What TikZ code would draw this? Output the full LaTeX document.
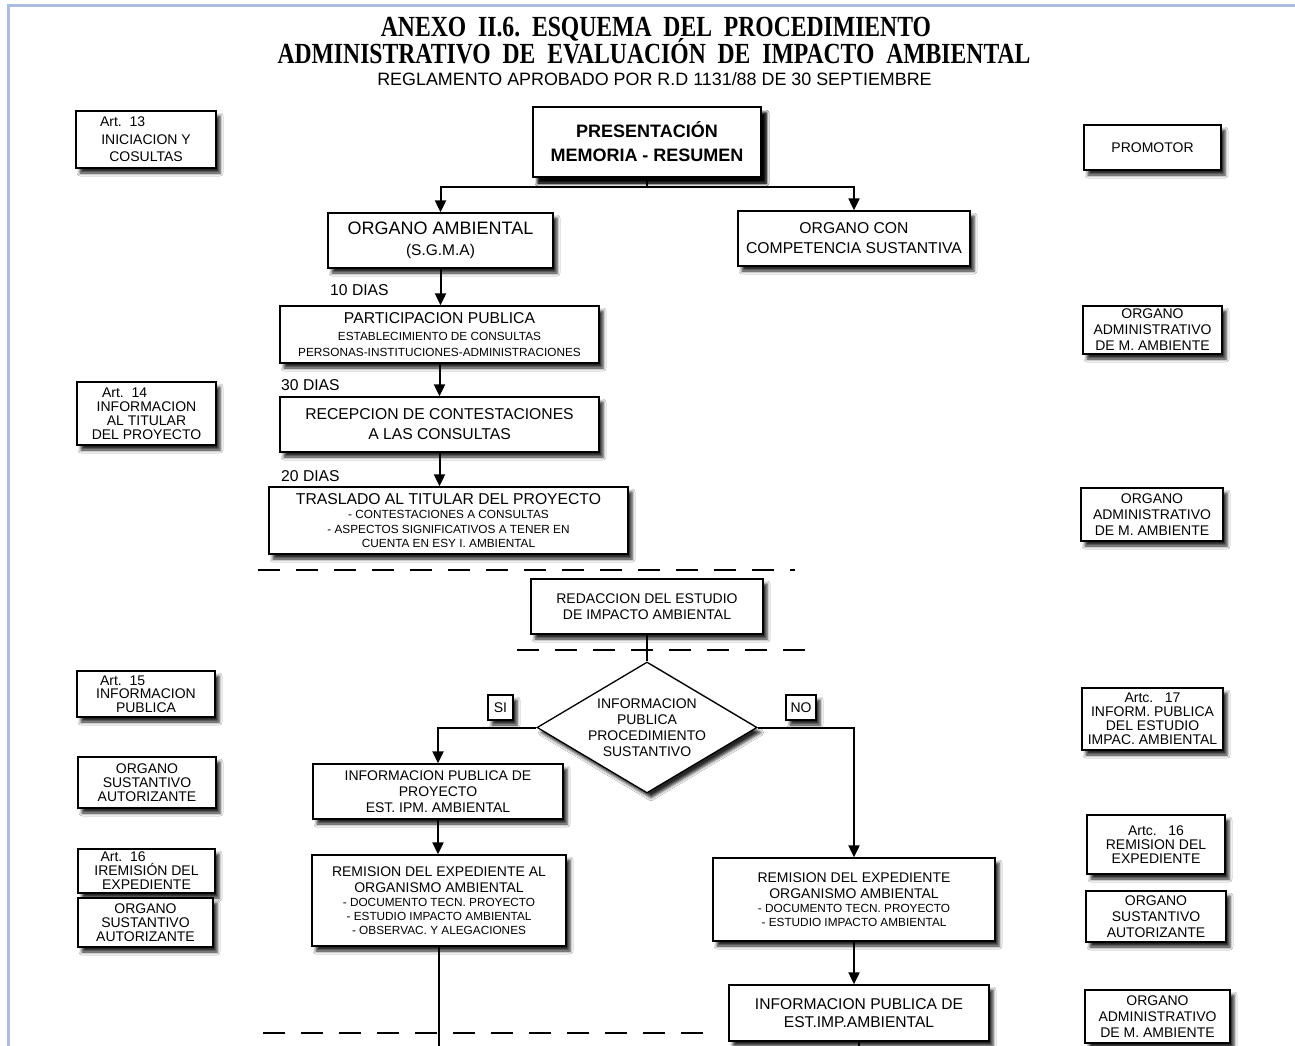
\documentclass[tikz,border=0pt]{standalone}
\usepackage{fontspec}
\setmainfont{Liberation Sans}
\newfontfamily\titlefont[FakeStretch=0.81]{Liberation Serif}
\usetikzlibrary{positioning,shapes.geometric,arrows.meta,shadows.blur}
\definecolor{framebl}{HTML}{A9BCE2}

% font sizes used in the boxes
\newcommand\hdfont{\fontsize{15.7}{20}\selectfont}
\newcommand\mdfont{\fontsize{14}{16}\selectfont}
\newcommand\smfont{\fontsize{11.8}{14.5}\selectfont}
\newcommand\sdfont{\fontsize{14}{14}\selectfont}
\newcommand\artline[2]{\makebox[#1][l]{#2}}

\begin{document}
\begin{tikzpicture}[
        x=1pt, y=-1pt,
        box/.style={rectangle, draw=black, line width=1.3pt, fill=white, inner sep=0pt, align=center,
            blur shadow={shadow xshift=4pt, shadow yshift=-5pt, shadow blur radius=3pt, shadow opacity=85}},
        side/.style={box, font=\sdfont},
        dias/.style={font=\hdfont, anchor=base west, inner sep=0pt},
        arrow/.style={-{Triangle[length=12pt,width=11pt]}, line width=2pt},
        link/.style={line width=2pt},
        cut/.style={line width=2pt, dash pattern=on 22pt off 16pt}
    ]
        \path[use as bounding box, fill=white] (0,0) rectangle (1295,1046);
        \draw[framebl, line width=3pt] (8.5,1046) -- (8.5,5.5) -- (1295,5.5);

        % heading
        \node[font={\titlefont\bfseries\fontsize{29.2}{30}\selectfont}, anchor=base, inner sep=0pt] (title1) at (656,37)
            {ANEXO~~II.6.~~ESQUEMA~~DEL~~PROCEDIMIENTO};
        \node[font={\titlefont\bfseries\fontsize{29.2}{30}\selectfont}, anchor=base, inner sep=0pt] (title2) at (654,64)
            {ADMINISTRATIVO~~DE~~EVALUACIÓN~~DE~~IMPACTO~~AMBIENTAL};
        \node[font={\fontsize{17.9}{20}\selectfont}, anchor=base, inner sep=0pt] (subtitle) at (654.5,86)
            {REGLAMENTO APROBADO POR R.D 1131/88 DE 30 SEPTIEMBRE};

        % separators
        \draw[cut] (258,570) -- (795,570);
        \draw[cut] (517,650) -- (805,650);
        \draw[cut] (263,1033) -- (718,1033);

        % main flow
        \node[box, line width=2pt, minimum width=228pt, minimum height=70pt, font={\bfseries\fontsize{18}{24}\selectfont},
            blur shadow={shadow xshift=5pt, shadow yshift=-6pt, shadow blur radius=3pt, shadow opacity=90}] (pres) at (647,142)
            {PRESENTACIÓN\\MEMORIA - RESUMEN};
        \node[box, minimum width=225pt, minimum height=55pt, font={\fontsize{18}{21}\selectfont}] (amb) at (440.5,240.5)
            {ORGANO AMBIENTAL\\{\fontsize{15.5}{18}\selectfont (S.G.M.A)}};
        \node[box, minimum width=232pt, minimum height=55pt, font=\hdfont] (comp) at (854,238.5)
            {ORGANO CON\\COMPETENCIA SUSTANTIVA};
        \node[box, minimum width=319pt, minimum height=57pt, font={\fontsize{11.8}{16}\selectfont}] (part) at (439.5,334.5)
            {{\hdfont PARTICIPACION PUBLICA}\\[1pt]ESTABLECIMIENTO DE CONSULTAS\\PERSONAS-INSTITUCIONES-ADMINISTRACIONES};
        \node[box, minimum width=319pt, minimum height=55pt, font=\hdfont] (recep) at (439.5,424.5)
            {RECEPCION DE CONTESTACIONES\\A LAS CONSULTAS};
        \node[box, minimum width=359pt, minimum height=67pt, font=\smfont] (trasl) at (448.5,520.5)
            {{\hdfont TRASLADO AL TITULAR DEL PROYECTO}\\- CONTESTACIONES A CONSULTAS\\- ASPECTOS SIGNIFICATIVOS A TENER EN\\CUENTA EN ESY I. AMBIENTAL};
        \node[box, minimum width=232pt, minimum height=55pt, font=\mdfont] (redac) at (647,606.5)
            {REDACCION DEL ESTUDIO\\DE IMPACTO AMBIENTAL};
        \node[box, diamond, aspect=1.68, minimum width=220pt, minimum height=131pt, font={\fontsize{14}{16}\selectfont}] (dec) at (647,727.5)
            {INFORMACION\\PUBLICA\\PROCEDIMIENTO\\SUSTANTIVO};
        \node[side, minimum width=25pt, minimum height=25pt] (si) at (500.5,707.5) {SI};
        \node[side, minimum width=30pt, minimum height=25pt] (no) at (801,707.5) {NO};
        \node[box, minimum width=250pt, minimum height=55pt, font=\mdfont] (ipp) at (438,791.5)
            {INFORMACION PUBLICA DE\\PROYECTO\\EST. IPM. AMBIENTAL};
        \node[box, minimum width=254pt, minimum height=91pt, font={\fontsize{11.8}{14}\selectfont}] (remA) at (439,900.5)
            {{\mdfont REMISION DEL EXPEDIENTE AL}\\[2pt]{\mdfont ORGANISMO AMBIENTAL}\\- DOCUMENTO TECN. PROYECTO\\- ESTUDIO IMPACTO AMBIENTAL\\- OBSERVAC. Y ALEGACIONES};
        \node[box, minimum width=282pt, minimum height=83pt, font={\fontsize{11.8}{14}\selectfont}] (remB) at (854,899.5)
            {{\mdfont REMISION DEL EXPEDIENTE}\\[2pt]{\mdfont ORGANISMO AMBIENTAL}\\- DOCUMENTO TECN. PROYECTO\\- ESTUDIO IMPACTO AMBIENTAL};
        \node[box, minimum width=260pt, minimum height=56pt, font={\fontsize{15.6}{18}\selectfont}] (ipe) at (859,1013)
            {INFORMACION PUBLICA DE\\EST.IMP.AMBIENTAL};

        % time limits
        \node[dias] (d10) at (330,295) {10 DIAS};
        \node[dias] (d30) at (281,390) {30 DIAS};
        \node[dias] (d20) at (281,481) {20 DIAS};

        % articles, left column
        \node[box, minimum width=140pt, minimum height=57pt, font={\fontsize{14}{17.5}\selectfont}] (art13) at (146,139.5)
            {\artline{92pt}{Art.\ \ 13}\\INICIACION Y\\COSULTAS};
        \node[side, minimum width=139pt, minimum height=63pt] (art14) at (146.5,413.5)
            {\artline{103pt}{\hspace{7pt}Art.\ \ 14}\\INFORMACION\\AL TITULAR\\DEL PROYECTO};
        \node[side, minimum width=138pt, minimum height=46pt, font={\fontsize{14}{13.5}\selectfont}] (art15) at (146,694)
            {\artline{102pt}{\hspace{5pt}Art.\ \ 15}\\INFORMACION\\PUBLICA};
        \node[side, minimum width=138pt, minimum height=51pt] (sustA) at (147,782.5)
            {ORGANO\\SUSTANTIVO\\AUTORIZANTE};
        \node[side, minimum width=137pt, minimum height=44pt] (art16) at (146.5,871)
            {\artline{106pt}{\hspace{7pt}Art.\ \ 16}\\IREMISIÓN DEL\\EXPEDIENTE};
        \node[side, minimum width=135pt, minimum height=49pt] (sustB) at (145.5,922.5)
            {ORGANO\\SUSTANTIVO\\AUTORIZANTE};

        % actors, right column
        \node[side, minimum width=137pt, minimum height=45pt] (prom) at (1152.5,147.5) {PROMOTOR};
        \node[side, minimum width=139pt, minimum height=48pt, font={\fontsize{14}{16}\selectfont}] (admA) at (1152.5,330)
            {ORGANO\\ADMINISTRATIVO\\DE M. AMBIENTE};
        \node[side, minimum width=142pt, minimum height=53pt, font={\fontsize{14}{16}\selectfont}] (admB) at (1152,514.5)
            {ORGANO\\ADMINISTRATIVO\\DE M. AMBIENTE};
        \node[side, minimum width=141pt, minimum height=62pt] (art17) at (1152.5,719)
            {Artc.\ \ \ 17\\INFORM. PUBLICA\\DEL ESTUDIO\\IMPAC. AMBIENTAL};
        \node[side, minimum width=138pt, minimum height=59pt] (art16r) at (1156,844.5)
            {Artc.\ \ \ 16\\REMISION DEL\\EXPEDIENTE};
        \node[side, minimum width=140pt, minimum height=51pt, font={\fontsize{14}{16}\selectfont}] (sustR) at (1156,916.5)
            {ORGANO\\SUSTANTIVO\\AUTORIZANTE};
        \node[side, minimum width=145pt, minimum height=53pt, font={\fontsize{14}{16}\selectfont}] (admC) at (1157.5,1016.5)
            {ORGANO\\ADMINISTRATIVO\\DE M. AMBIENTE};

        % connectors
        \coordinate (forky) at (0,187);
        \coordinate (fork) at (pres.south |- forky);
        \coordinate (pagebot) at (0,1046);
        \draw[link] (pres.south) -- (fork);
        \draw[arrow] (fork) -| (amb.north);
        \draw[arrow] (fork) -| (comp.north);
        \draw[arrow] (amb.south) -- (amb.south |- part.north);
        \draw[arrow] (part.south) -- (part.south |- recep.north);
        \draw[arrow] (recep.south) -- (recep.south |- trasl.north);
        \draw[link] (redac.south) -- (dec.north);
        \draw[arrow] (dec.west) -| (ipp.north);
        \draw[arrow] (dec.east) -| (remB.north);
        \draw[arrow] (ipp.south) -- (ipp.south |- remA.north);
        \draw[arrow] (remB.south) -- (remB.south |- ipe.north);
        \draw[link] (remA.south) -- (remA.south |- pagebot);
        \draw[link] (ipe.south) -- (ipe.south |- pagebot);
    \end{tikzpicture}
\end{document}
